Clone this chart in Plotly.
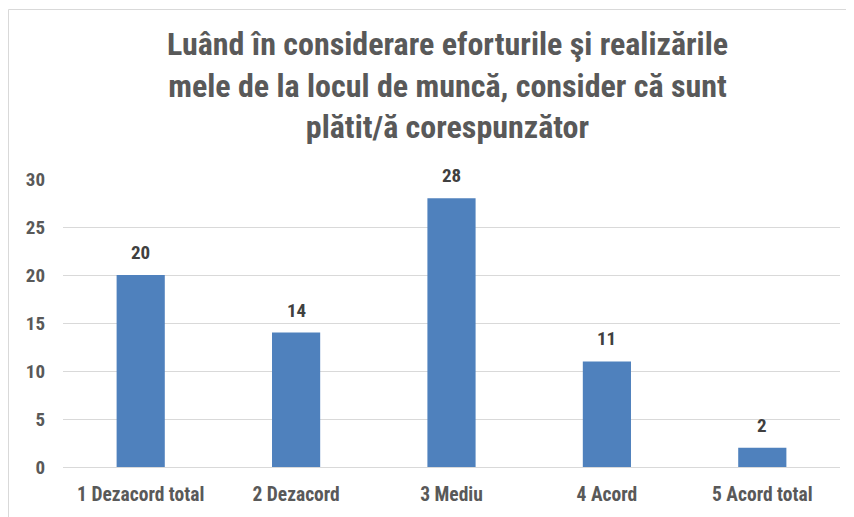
import plotly.graph_objects as go

categories = ["1 Dezacord total", "2 Dezacord", "3 Mediu", "4 Acord", "5 Acord total"]
values = [20, 14, 28, 11, 2]
title_lines = ["Luând în considerare eforturile şi realizările",
               "mele de la locul de muncă, consider că sunt",
               "plătit/ă corespunzător"]

FONT = "Liberation Sans Narrow, Arial Narrow, Roboto Condensed, Carlito, sans-serif"
TXT = "#595959"

fig = go.Figure(go.Bar(
    x=categories, y=values,
    marker=dict(color="#4F81BD", line=dict(width=0)),
    hoverinfo="x+y",
))

for c, v in zip(categories, values):
    fig.add_annotation(x=c, y=v, text=f"<b>{v}</b>", showarrow=False,
                       xanchor="center", yanchor="bottom", yshift=9,
                       font=dict(family=FONT, size=19, color="#404040"))

W, H = 854, 517
OFF = 8  # page body margin
L, R, T, B = 63 - OFF, 22, 179 - OFF, 58
fig.update_layout(
    width=W, height=H,
    margin=dict(l=L, r=R, t=T, b=B),
    paper_bgcolor="white", plot_bgcolor="white",
    bargap=0.69,
    showlegend=False,
    title=dict(text="<b>" + "<br>".join(title_lines) + "</b>", x=(L + (W - L - R) / 2 - 4) / W,
               xanchor="center",
               y=1 - 47 / H, yanchor="top",
               font=dict(family=FONT, size=32, color=TXT)),
    font=dict(family=FONT, color=TXT),
)
fig.update_yaxes(range=[0, 30], dtick=5, showgrid=True, gridcolor="#D9D9D9",
                 gridwidth=1, zeroline=True, zerolinecolor="#D9D9D9", zerolinewidth=1,
                 showline=False, ticks="", ticklabelstandoff=17,
                 tickprefix="<b>", ticksuffix="</b>",
                 tickfont=dict(family=FONT, size=19, color=TXT))
fig.update_xaxes(showline=False, ticks="", showgrid=False, ticklabelstandoff=13,
                 tickprefix="<b>", ticksuffix="</b>",
                 tickfont=dict(family=FONT, size=19.5, color=TXT))

pw = W - L - R
ph = H - T - B
fig.add_shape(type="rect", xref="paper", yref="paper",
              x0=(0.5 - L) / pw, x1=(W + 20 - L) / pw,
              y0=-(H + 20 - (H - B)) / ph, y1=1 + (T - 1.5) / ph,
              line=dict(color="#D9D9D9", width=1), fillcolor="rgba(0,0,0,0)", layer="below")

fig.write_html("out.html")
